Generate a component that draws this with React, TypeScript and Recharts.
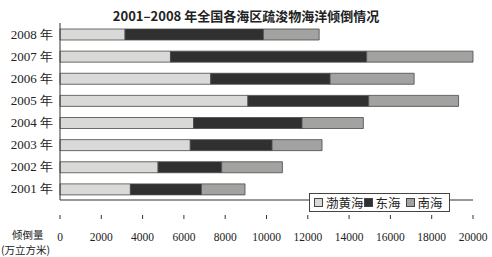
import { BarChart, Bar, XAxis, YAxis, Legend } from "recharts"

const years = ["2001 年", "2002 年", "2003 年", "2004 年", "2005 年", "2006 年", "2007 年", "2008 年"]
const bohai = [3410, 4750, 6310, 6470, 9100, 7300, 5350, 3150]
const donghai = [3440, 3080, 3960, 5250, 5850, 5780, 9500, 6700]
const nanhai = [2110, 2940, 2420, 2970, 4350, 4070, 5150, 2700]
const xTicks = [0, 2000, 4000, 6000, 8000, 10000, 12000, 14000, 16000, 18000, 20000]

const SERIES = [
    { key: "bohai", name: "渤黄海", fill: "#d9d9d7" },
    { key: "donghai", name: "东海", fill: "#303030" },
    { key: "nanhai", name: "南海", fill: "#a2a2a0" },
]

const W = 492
const H = 257
const MARGIN = { top: 23, right: 19, bottom: 8, left: 0 }
const X_AXIS_H = 30
const AXIS_Y = H - MARGIN.bottom - X_AXIS_H
const SERIF = "Liberation Serif, DejaVu Serif, serif"

const data = years.map((y, i) => ({
    year: y,
    bohai: bohai[i],
    donghai: donghai[i],
    nanhai: nanhai[i],
}))

const XTick = (props: any) => {
    const { x, payload } = props
    return (
        <g>
            <line x1={x} x2={x} y1={AXIS_Y} y2={AXIS_Y - 4} stroke="#333" />
            <text x={x} y={AXIS_Y + 22} textAnchor="middle" fontSize={11.5} fontFamily={SERIF} fill="#222">
                {payload.value}
            </text>
        </g>
    )
}

const YTick = (props: any) => {
    const { x, y, payload } = props
    return (
        <text x={x} y={y} dy={4.5} textAnchor="end" fontSize={13} fontFamily={SERIF} fill="#222">
            {payload.value}
        </text>
    )
}

const LegendBox = () => (
    <div
        style={{
            display: "flex",
            alignItems: "center",
            border: "1px solid #444",
            background: "#fff",
            padding: "1px 6px 1px 4px",
            fontFamily: "'Noto Sans CJK SC', serif",
            fontSize: 12.5,
            color: "#222",
            lineHeight: "15px",
        }}
    >
        {SERIES.map((s, i) => (
            <span key={s.key} style={{ display: "flex", alignItems: "center", marginLeft: i === 2 ? 5 : 0 }}>
                <span
                    style={{
                        display: "inline-block",
                        width: 7,
                        height: 7,
                        background: s.fill,
                        border: "1px solid #444",
                        marginRight: 3,
                    }}
                />
                {s.name}
            </span>
        ))}
    </div>
)

export default function App() {
    return (
        <div style={{ position: "relative", width: W, height: H, background: "#fff", overflow: "hidden" }}>
            <style>{"body{margin:0}"}</style>

            <div
                style={{
                    position: "absolute",
                    top: 6,
                    left: 0,
                    width: W,
                    textAlign: "center",
                    fontFamily: "'Noto Sans CJK SC', sans-serif",
                    fontWeight: 700,
                    fontSize: 13,
                    color: "#222",
                    paddingRight: 2,
                }}
            >
                2001–2008 年全国各海区疏浚物海洋倾倒情况
            </div>

            <BarChart width={W} height={H} data={data} layout="vertical" margin={MARGIN}>
                <XAxis
                    type="number"
                    domain={[0, 20000]}
                    ticks={xTicks}
                    interval={0}
                    height={X_AXIS_H}
                    axisLine={{ stroke: "#333" }}
                    tickLine={false}
                    tick={<XTick />}
                />
                <YAxis
                    type="category"
                    dataKey="year"
                    reversed
                    interval={0}
                    width={60}
                    axisLine={{ stroke: "#333" }}
                    tickLine={false}
                    tickMargin={1}
                    tick={<YTick />}
                />
                <Legend
                    content={<LegendBox />}
                    wrapperStyle={{ position: "absolute", left: 309, top: 193, width: "auto" }}
                />
                {SERIES.map((s) => (
                    <Bar
                        key={s.key}
                        dataKey={s.key}
                        name={s.name}
                        stackId="a"
                        fill={s.fill}
                        stroke="#4a4a4a"
                        strokeWidth={0.8}
                        barSize={11}
                        isAnimationActive={false}
                    />
                ))}
            </BarChart>

            {/* unit label under the year axis */}
            <div
                style={{
                    position: "absolute",
                    left: 1,
                    top: 227,
                    fontFamily: "'Noto Sans CJK SC', serif",
                    color: "#222",
                    whiteSpace: "nowrap",
                    fontSize: 10.5,
                    lineHeight: "15px",
                }}
            >
                <span style={{ paddingLeft: 11 }}>倾倒量</span>
                <br />
                (万立方米)
            </div>
        </div>
    )
}
